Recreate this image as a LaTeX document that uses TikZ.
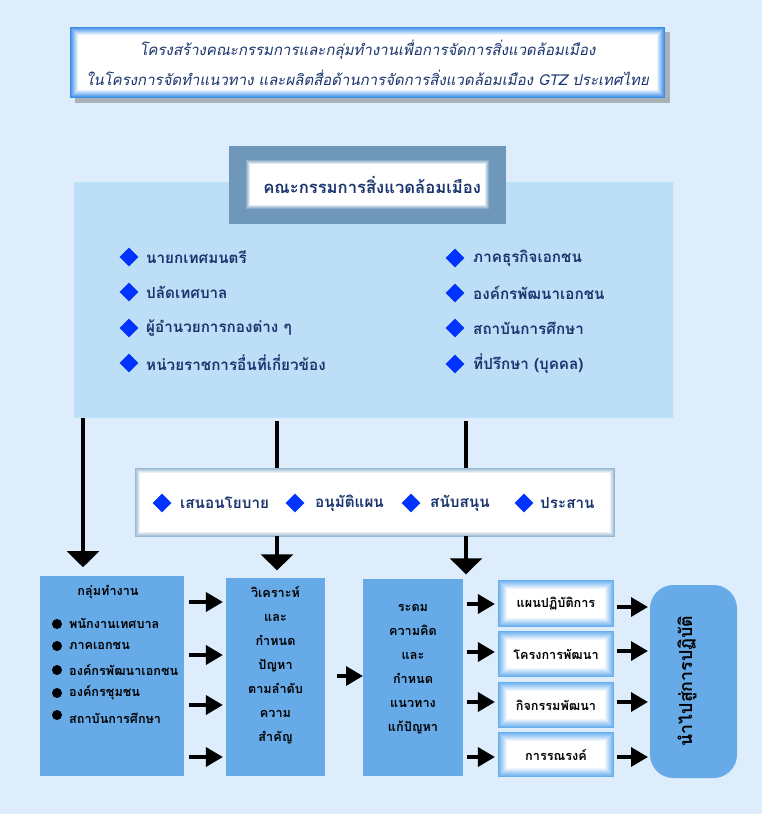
\documentclass[tikz,border=0pt]{standalone}
\usepackage{fontspec}
\usetikzlibrary{arrows.meta,shapes.geometric}
\newfontfamily\thaifont[Script=Thai]{Loma}
\newfontfamily\thaislant[Script=Thai,FakeSlant=0.2]{Loma}
\definecolor{pagebg}{RGB}{221,237,251}
\definecolor{panelblue}{RGB}{188,222,246}
\definecolor{framegray}{RGB}{111,151,186}
\definecolor{rolesframe}{RGB}{150,184,210}
\definecolor{boxblue}{RGB}{102,170,232}
\definecolor{glowblue}{RGB}{58,141,232}
\definecolor{softblue}{RGB}{104,174,238}
\definecolor{gemblue}{RGB}{0,51,255}
\definecolor{navy}{RGB}{26,52,110}
\newdimen\pu \pu=0.03cm
\def\glow#1#2#3{\foreach \i [evaluate=\i as \pct using {int(100-100*\i/#3)}] in {0,...,#3}
  \draw[#2!\pct!white,line width=1.2pt] ([shift={(\i+.5,\i+.5)}]#1.north west) rectangle ([shift={(-\i-.5,-\i-.5)}]#1.south east);}
\tikzset{
  panel/.style={inner sep=0pt,outer sep=0pt,anchor=north west},
  gem/.style={diamond,fill=gemblue,inner sep=0pt,minimum size={19*\pu}},
  dot/.style={circle,fill=black,inner sep=0pt,minimum size={10*\pu}},
  item/.style={anchor=west,inner sep=0pt,text=navy,font=\thaifont\bfseries\fontsize{13}{15}\selectfont},
  small/.style={inner sep=0pt,font=\thaifont\bfseries\fontsize{10.8}{20.5}\selectfont},
  bigline/.style={line width=2.6pt},
  bigarr/.style={line width=2.6pt,-{Triangle[length=13.7pt,width=27.3pt]}},
  smallarr/.style={line width=3.4pt,-{Triangle[length=14.5pt,width=16pt]}}
}
\begin{document}
\begin{tikzpicture}[x=0.03cm,y=-0.03cm]
\useasboundingbox (0,0) rectangle (762,814);
\fill[pagebg] (0,0) rectangle (762,814);

% title
\fill[black!50,opacity=.55] (75,32) rectangle (670,103);
\node[panel,fill=white,minimum width={595*\pu},minimum height={71*\pu},align=center,text=navy,
  font=\thaislant\fontsize{12.8}{25.6}\selectfont] (title) at (70,27)
  {โครงสร้างคณะกรรมการและกลุ่มทำงานเพื่อการจัดการสิ่งแวดล้อมเมือง\\
   ในโครงการจัดทำแนวทาง และผลิตสื่อด้านการจัดการสิ่งแวดล้อมเมือง GTZ ประเทศไทย\hspace{3pt}};
\glow{title}{glowblue}{8}

% committee
\node[panel,fill=panelblue,minimum width={599*\pu},minimum height={236*\pu}] (board) at (74,182) {};
\node[panel,fill=framegray,minimum width={277*\pu},minimum height={78*\pu}] (headframe) at (229,146) {};
\node[panel,fill=white,minimum width={245*\pu},minimum height={51*\pu},text=navy,text depth=0pt,
  font=\thaifont\bfseries\fontsize{14.2}{16}\selectfont] (head) at (245,159) {\hspace{8pt}คณะกรรมการสิ่งแวดล้อมเมือง};
\glow{head}{framegray}{5}

\node[gem] (g1) at (129,257) {};
\node[item] (m1) at (146,257) {นายกเทศมนตรี};
\node[gem] (g2) at (129,292) {};
\node[item] (m2) at (146,292) {ปลัดเทศบาล};
\node[gem] (g3) at (129,328) {};
\node[item] (m3) at (146,328) {ผู้อำนวยการกองต่าง ๆ};
\node[gem] (g4) at (129,363) {};
\node[item] (m4) at (146,363) {หน่วยราชการอื่นที่เกี่ยวข้อง};
\node[gem] (g5) at (455,258) {};
\node[item] (m5) at (473,258) {ภาคธุรกิจเอกชน};
\node[gem] (g6) at (455,293) {};
\node[item] (m6) at (473,293) {องค์กรพัฒนาเอกชน};
\node[gem] (g7) at (455,328) {};
\node[item] (m7) at (473,328) {สถาบันการศึกษา};
\node[gem] (g8) at (455,364) {};
\node[item] (m8) at (473,364) {ที่ปรึกษา (บุคคล)};

% roles
\node[panel,fill=white,minimum width={480*\pu},minimum height={69*\pu}] (roles) at (135,468) {};
\glow{roles}{rolesframe}{5}
\node[gem] (r1) at (162,503) {};
\node[item] (t1) at (180,503) {เสนอนโยบาย};
\node[gem] (r2) at (295,503) {};
\node[item] (t2) at (315,503) {อนุมัติแผน};
\node[gem] (r3) at (411,503) {};
\node[item] (t3) at (430,503) {สนับสนุน};
\node[gem] (r4) at (524,503) {};
\node[item] (t4) at (540,503) {ประสาน};

\coordinate (cl) at (83,0);
\coordinate (cm) at (277,0);
\coordinate (cr) at (466,0);
\draw[bigline,shorten <=2.5pt] (board.south -| cm) -- (roles.north -| cm);
\draw[bigline,shorten <=2.5pt] (board.south -| cr) -- (roles.north -| cr);

% working group
\node[panel,fill=boxblue,minimum width={144*\pu},minimum height={200*\pu}] (gA) at (40,576) {};
\node[small] (gAt) at (108,592) {กลุ่มทำงาน};
\node[dot] (b1) at (57,624) {};
\node[small,anchor=west] (a1) at (69,623) {พนักงานเทศบาล};
\node[dot] (b2) at (57,646) {};
\node[small,anchor=west] (a2) at (69,646) {ภาคเอกชน};
\node[dot] (b3) at (57,670) {};
\node[small,anchor=west] (a3) at (69,670) {องค์กรพัฒนาเอกชน};
\node[dot] (b4) at (57,693) {};
\node[small,anchor=west] (a4) at (69,693) {องค์กรชุมชน};
\node[dot] (b5) at (57,715) {};
\node[small,anchor=west] (a5) at (69,718) {สถาบันการศึกษา};
\draw[bigarr,shorten >=7.5pt] (board.south -| cl) -- (gA.north -| cl);

\node[panel,fill=boxblue,minimum width={99*\pu},minimum height={198*\pu}] (gB) at (226,578) {};
\node[small,align=center] (gBt) at (275.5,665) {วิเคราะห์\\และ\\กำหนด\\ปัญหา\\ตามลำดับ\\ความ\\สำคัญ};
\node[panel,fill=boxblue,minimum width={100*\pu},minimum height={197*\pu}] (gC) at (363,579) {};
\node[small,align=center] (gCt) at (413,669.5) {ระดม\\ความคิด\\และ\\กำหนด\\แนวทาง\\แก้ปัญหา};

\draw[bigarr,shorten <=-1pt,shorten >=6.5pt] (roles.south -| cm) -- (gB.north -| cm);
\draw[bigarr,shorten <=-1pt,shorten >=4pt] (roles.south -| cr) -- (gC.north -| cr);

% outputs
\node[panel,fill=white,minimum width={116*\pu},minimum height={47*\pu},font=\thaifont\bfseries\fontsize{10.8}{12}\selectfont] (w1) at (498,580) {แผนปฏิบัติการ};
\glow{w1}{softblue}{9}
\node[panel,fill=white,minimum width={116*\pu},minimum height={46*\pu},font=\thaifont\bfseries\fontsize{10.8}{12}\selectfont] (w2) at (498,631) {โครงการพัฒนา};
\glow{w2}{softblue}{9}
\node[panel,fill=white,minimum width={116*\pu},minimum height={46*\pu},font=\thaifont\bfseries\fontsize{10.8}{12}\selectfont] (w3) at (498,682) {กิจกรรมพัฒนา};
\glow{w3}{softblue}{9}
\node[panel,fill=white,minimum width={116*\pu},minimum height={45*\pu},font=\thaifont\bfseries\fontsize{10.8}{12}\selectfont] (w4) at (498,732) {การรณรงค์};
\glow{w4}{softblue}{9}

\node[panel,fill=boxblue,rounded corners=20pt,minimum width={87*\pu},minimum height={193*\pu}] (goal) at (650,585) {};
\node[rotate=90,inner sep=0pt,font=\thaifont\bfseries\fontsize{15.2}{17}\selectfont] (goalt) at (687,681) {นำไปสู่การปฏิบัติ};

% arrows
\draw[smallarr,shorten <=4.3pt,shorten >=2.6pt] (gA.east |- 0,602) -- (gB.west |- 0,602);
\draw[smallarr,shorten <=4.3pt,shorten >=2.6pt] (gA.east |- 0,655) -- (gB.west |- 0,655);
\draw[smallarr,shorten <=4.3pt,shorten >=2.6pt] (gA.east |- 0,705) -- (gB.west |- 0,705);
\draw[smallarr,shorten <=4.3pt,shorten >=2.6pt] (gA.east |- 0,757) -- (gB.west |- 0,757);
\draw[smallarr,shorten <=10pt] (gB.east |- 0,676) -- (gC.west |- 0,676);
\draw[smallarr,shorten <=3.4pt,shorten >=2.6pt] (gC.east |- 0,604) -- (w1.west |- 0,604);
\draw[smallarr,shorten <=3.4pt,shorten >=2.6pt] (gC.east |- 0,652) -- (w2.west |- 0,652);
\draw[smallarr,shorten <=3.4pt,shorten >=2.6pt] (gC.east |- 0,702) -- (w3.west |- 0,702);
\draw[smallarr,shorten <=3.4pt,shorten >=2.6pt] (gC.east |- 0,757) -- (w4.west |- 0,757);
\draw[smallarr,shorten <=2.6pt,shorten >=1.7pt] (w1.east |- 0,607) -- (goal.west |- 0,607);
\draw[smallarr,shorten <=2.6pt,shorten >=1.7pt] (w2.east |- 0,651) -- (goal.west |- 0,651);
\draw[smallarr,shorten <=2.6pt,shorten >=1.7pt] (w3.east |- 0,702) -- (goal.west |- 0,702);
\draw[smallarr,shorten <=2.6pt,shorten >=1.7pt] (w4.east |- 0,757) -- (goal.west |- 0,757);
\end{tikzpicture}
\end{document}
